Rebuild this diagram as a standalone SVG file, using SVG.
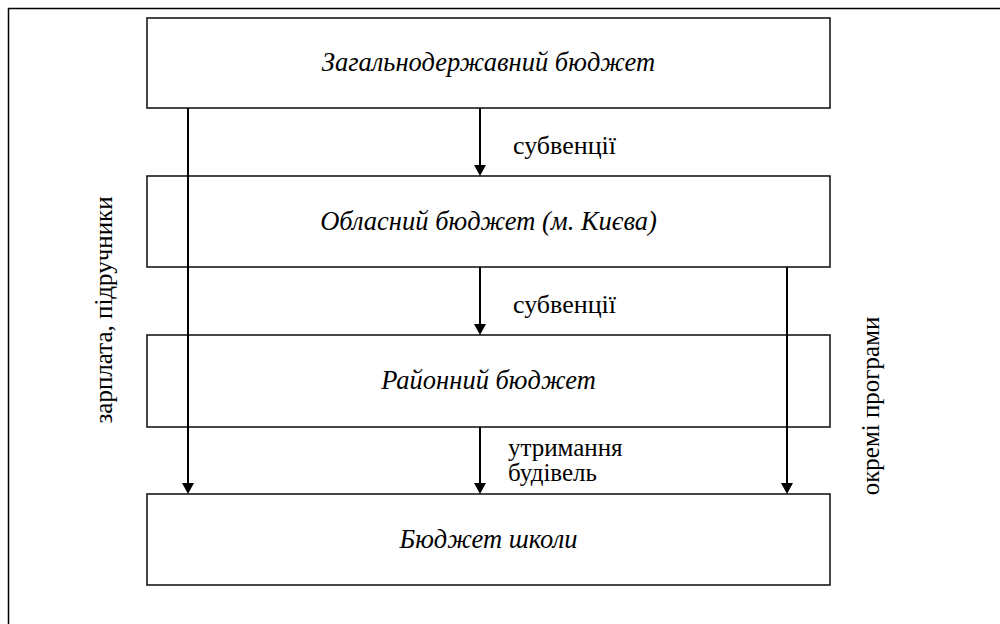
<svg xmlns="http://www.w3.org/2000/svg" width="1000" height="624" viewBox="0 0 1000 624">
<style>
.box{fill:#fff;stroke:#1a1a1a;stroke-width:1.6}
.bt{font-family:'Liberation Serif','Times New Roman',serif;font-style:italic;font-size:26.5px;text-anchor:middle;fill:#000}
.lbl{font-family:'Liberation Serif','Times New Roman',serif;font-size:26px;fill:#000}
.lb2{font-family:'Liberation Serif','Times New Roman',serif;font-size:25px;fill:#000}
.vl{font-family:'Liberation Serif','Times New Roman',serif;font-size:25px;fill:#000;text-anchor:middle}
.ln{stroke:#000;stroke-width:2;fill:none}
</style>
<path d="M8.5,624 L8.5,8.5 L1000,8.5" fill="none" stroke="#000" stroke-width="1.5"/>
<g id="n1"><rect class="box" x="147" y="18" width="683" height="90"/><text class="bt" x="488.5" y="71">Загальнодержавний бюджет</text></g>
<g id="n2"><rect class="box" x="147" y="176" width="683" height="91"/><text class="bt" x="488.5" y="230">Обласний бюджет (м. Києва)</text></g>
<g id="n3"><rect class="box" x="147" y="335" width="683" height="92"/><text class="bt" x="488.5" y="389">Районний бюджет</text></g>
<g id="n4"><rect class="box" x="147" y="494" width="683" height="91"/><text class="bt" x="488.5" y="548">Бюджет школи</text></g>
<g id="connectors">
<line class="ln" x1="188" y1="108" x2="188" y2="484"/><path d="M182,483 L194,483 L188,494 Z"/>
<line class="ln" x1="787" y1="267" x2="787" y2="484"/><path d="M781,483 L793,483 L787,494 Z"/>
<line class="ln" x1="480" y1="108" x2="480" y2="166"/><path d="M474,165 L486,165 L480,176 Z"/>
<line class="ln" x1="480" y1="267" x2="480" y2="325"/><path d="M474,324 L486,324 L480,335 Z"/>
<line class="ln" x1="480" y1="427" x2="480" y2="484"/><path d="M474,483 L486,483 L480,494 Z"/>
</g>
<text class="lbl" x="513" y="154">субвенції</text>
<text class="lbl" x="513" y="313">субвенції</text>
<text class="lb2" x="508" y="456">утримання</text>
<text class="lb2" x="508" y="481">будівель</text>
<text class="vl" transform="translate(112,310) rotate(-90)">зарплата, підручники</text>
<text class="vl" transform="translate(879,406) rotate(-90)">окремі програми</text>
</svg>
